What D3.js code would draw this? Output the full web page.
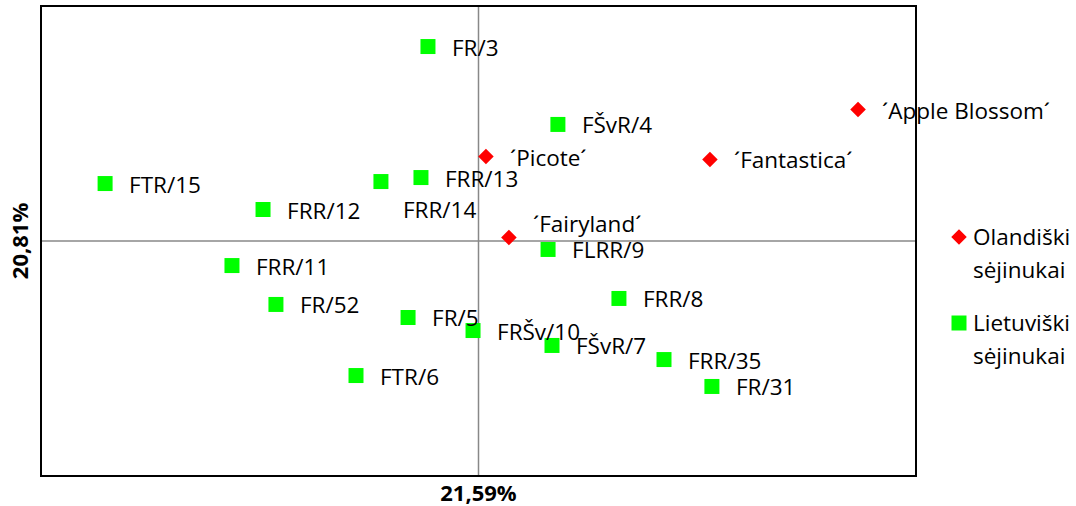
<!DOCTYPE html>
<html><head><meta charset="utf-8">
<script src="https://cdn.jsdelivr.net/npm/d3@7/dist/d3.min.js"></script>
<style>body{margin:0;background:#fff}svg{display:block}text{font-family:"Open Sans",sans-serif}</style>
</head><body><svg id="c" width="1076" height="506"></svg>
<script>
// Lithuanian seedlings (green squares)
const ltNames = ["FR/3","FŠvR/4","FTR/15","FRR/13","FRR/14","FRR/12","FRR/11","FR/52","FR/5","FRŠv/10","FŠvR/7","FLRR/9","FRR/8","FRR/35","FR/31","FTR/6"];
const ltX = [-0.231,0.363,-1.707,-0.263,-0.446,-0.985,-1.127,-0.926,-0.322,-0.025,0.336,0.318,0.642,0.848,1.067,-0.560];
const ltY = [1.655,0.992,0.489,0.540,0.506,0.268,-0.209,-0.540,-0.651,-0.762,-0.889,-0.072,-0.489,-1.009,-1.238,-1.145];
// Dutch seedlings (red diamonds)
const nlNames = ["´Picote´","´Fantastica´","´Apple Blossom´","´Fairyland´"];
const nlX = [0.034,1.058,1.735,0.139];
const nlY = [0.719,0.694,1.119,0.030];
const xAxisLabel = "21,59%";
const yAxisLabel = "20,81%";
const legendLabels = [["Olandiški","sėjinukai"],["Lietuviški","sėjinukai"]];

// label placement exceptions (style)
const labelShift = {"FRR/14":[-2,27],"´Fairyland´":[0,-14]};

const svg = d3.select("#c");
const L=41,R=916,T=6,B=476;
const x = d3.scaleLinear().domain([-2,2]).range([L,R]);
const y = d3.scaleLinear().domain([-2,2]).range([B,T]);

// axis lines through origin
svg.append("line").attr("x1",L).attr("x2",R).attr("y1",y(0)).attr("y2",y(0)).attr("stroke","#888").attr("stroke-width",1.5);
svg.append("line").attr("y1",T).attr("y2",B).attr("x1",x(0)).attr("x2",x(0)).attr("stroke","#888").attr("stroke-width",1.5);

svg.append("rect").attr("x",L).attr("y",T).attr("width",R-L).attr("height",B-T).attr("fill","none").attr("stroke","#000").attr("stroke-width",2);

const lt = ltNames.map((n,i)=>({n,x:ltX[i],y:ltY[i]}));
const nl = nlNames.map((n,i)=>({n,x:nlX[i],y:nlY[i]}));
const sq = d3.symbol().type(d3.symbolSquare).size(15*15);
const dm = d3.symbol().type(d3.symbolSquare).size(11*11);

svg.selectAll(".lt").data(lt).join("path").attr("class","lt")
  .attr("d",sq).attr("fill","#00ff00").attr("transform",d=>`translate(${x(d.x)},${y(d.y)})`);
svg.selectAll(".nl").data(nl).join("path").attr("class","nl")
  .attr("d",dm).attr("fill","#ff0000")
  .attr("transform",d=>`translate(${x(d.x)},${y(d.y)}) rotate(45)`);

const fs=22.5;
svg.selectAll(".lab").data(lt.concat(nl)).join("text").attr("class","lab")
  .attr("x",d=>x(d.x)+24+(labelShift[d.n]?labelShift[d.n][0]:0))
  .attr("y",d=>y(d.y)+9+(labelShift[d.n]?labelShift[d.n][1]:0))
  .attr("font-size",fs).attr("fill","#000").text(d=>d.n);

// axis titles
svg.append("text").attr("x",x(0)).attr("y",501).attr("text-anchor","middle")
  .attr("font-size",22).attr("font-weight","bold").text(xAxisLabel);
svg.append("text").attr("transform",`translate(28,${y(0)}) rotate(-90)`).attr("text-anchor","middle")
  .attr("font-size",22).attr("font-weight","bold").text(yAxisLabel);

// legend
const lg = svg.append("g");
lg.append("path").attr("d",dm).attr("fill","#ff0000").attr("transform","translate(959,237) rotate(45)");
lg.append("path").attr("d",sq).attr("fill","#00ff00").attr("transform","translate(959,323)");
[[237,0],[323,1]].forEach(([yy,i])=>{
  legendLabels[i].forEach((t,j)=>{
    lg.append("text").attr("x",973).attr("y",yy+8+j*33).attr("font-size",fs).text(t);
  });
});
</script></body></html>
